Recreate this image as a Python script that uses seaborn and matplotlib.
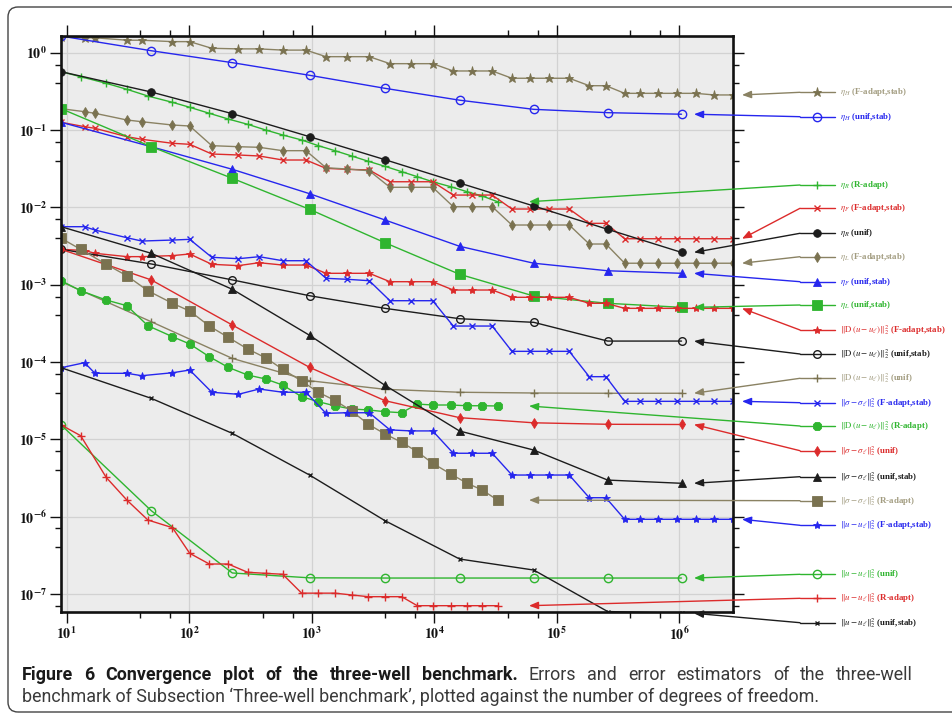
import numpy as np
import pandas as pd
import matplotlib
matplotlib.use("Agg")
import matplotlib.pyplot as plt
import seaborn as sns
from matplotlib.ticker import LogLocator, NullFormatter, FuncFormatter
from matplotlib.lines import Line2D
from matplotlib.patches import FancyBboxPatch
from matplotlib.transforms import IdentityTransform

# ---------------- data (degrees of freedom) ----------------
x_unif = [9, 49, 225, 961, 3969, 16129, 65025, 261121, 1046529]
x_fadapt = [9, 14, 17, 31, 41, 73, 101, 153, 252, 373, 580, 898, 1309, 1931, 2953,
            4355, 6467, 9727, 14325, 20240, 29800, 43150, 60500, 87000, 126800,
            184600, 252700, 359000, 478600, 675000, 955000, 1365000, 1935000, 2770000]
x_radapt = [9, 13, 21, 31, 46, 73, 101, 146, 208, 300, 421, 580, 828, 1132, 1549,
            2121, 2900, 3966, 5429, 7278, 9727, 13640, 18630, 24700, 32960]

# uniform refinement
etaH_unif_stab = [1.64, 1.06, 0.743, 0.510, 0.346, 0.243, 0.185, 0.1675, 0.160]
etaR_unif = [0.568, 0.310, 0.1625, 0.0819, 0.0413, 0.0206, 0.0104, 0.00519, 0.00261]
etaF_unif_stab = [0.1258, 0.0608, 0.0310, 0.0150, 0.00685, 0.00313, 0.00189, 0.00151, 0.00140]
etaL_unif_stab = [0.1886, 0.0608, 0.0237, 0.00942, 0.00348, 0.00136, 0.000712, 0.000573, 0.000508]
Du_unif_stab = [0.00286, 0.00185, 0.00115, 0.000718, 0.000493, 0.000362, 0.000325, 0.000186, 0.000186]
Du_unif = [0.00109, 0.000331, 0.000111, 5.71e-5, 4.42e-5, 4.05e-5, 3.96e-5, 3.93e-5, 3.93e-5]
sig_unif = [0.00286, 0.00115, 0.000300, 8.51e-5, 3.15e-5, 1.90e-5, 1.63e-5, 1.56e-5, 1.55e-5]
sig_unif_stab = [0.00561, 0.00254, 0.000869, 0.000221, 4.98e-5, 1.276e-5, 7.24e-6, 2.96e-6, 2.69e-6]
u_unif = [1.53e-5, 1.19e-6, 1.86e-7, 1.61e-7, 1.60e-7, 1.60e-7, 1.60e-7, 1.60e-7, 1.60e-7]
u_unif_stab = [8.41e-5, 3.38e-5, 1.19e-5, 3.44e-6, 8.83e-7, 2.82e-7, 2.03e-7, 5.9e-8, 5.6e-8]

# F-adapt, stab
etaH_fadapt = [1.60, 1.56, 1.56, 1.45, 1.45, 1.39, 1.39, 1.14, 1.12, 1.12, 1.08, 1.08,
               0.888, 0.888, 0.888, 0.721, 0.721, 0.721, 0.580, 0.580, 0.580,
               0.467, 0.467, 0.467, 0.467, 0.374, 0.374,
               0.298, 0.298, 0.298, 0.298, 0.298, 0.284, 0.284]
etaF_fadapt = [0.1258, 0.1103, 0.1052, 0.0819, 0.0758, 0.0673, 0.0653, 0.0489, 0.0475,
               0.0461, 0.0409, 0.0409, 0.0319, 0.0310, 0.0304, 0.0214, 0.0214, 0.0214,
               0.0144, 0.0144, 0.0144, 0.0095, 0.0095, 0.0095, 0.0095, 0.0062, 0.0062,
               0.00392, 0.00392, 0.00392, 0.00392, 0.00392, 0.00392, 0.00392]
etaL_fadapt = [0.1886, 0.1725, 0.1644, 0.1347, 0.128, 0.116, 0.1126, 0.0627, 0.0608,
               0.0597, 0.054, 0.054, 0.0325, 0.0313, 0.0297, 0.01815, 0.01815, 0.01815,
               0.01019, 0.01019, 0.01019, 0.0059, 0.0059, 0.0059, 0.0059, 0.00335, 0.00335,
               0.00189, 0.00189, 0.00189, 0.00189, 0.00189, 0.00189, 0.00189]
Du_fadapt = [0.00286, 0.00276, 0.00254, 0.0023, 0.0023, 0.00237, 0.00249, 0.00183, 0.00176,
             0.00192, 0.00179, 0.00179, 0.0014, 0.0014, 0.0014, 0.00109, 0.00109, 0.00109,
             0.000851, 0.000851, 0.000851, 0.000685, 0.000685, 0.000685, 0.000685,
             0.000573, 0.000573, 0.000493, 0.000493, 0.000493, 0.000493, 0.000493,
             0.000493, 0.000493]
sig_fadapt = [0.00561, 0.00561, 0.00508, 0.00404, 0.00366, 0.00377, 0.00385, 0.002255,
              0.002163, 0.002296, 0.002037, 0.002037, 0.001206, 0.001172, 0.001123,
              0.000619, 0.000619, 0.000619, 0.000291, 0.000291, 0.000291,
              0.000137, 0.000137, 0.000137, 0.000137, 6.44e-5, 6.44e-5,
              3.09e-5, 3.09e-5, 3.09e-5, 3.09e-5, 3.09e-5, 3.09e-5, 3.09e-5]
u_fadapt = [8.41e-5, 9.77e-5, 7.12e-5, 7.12e-5, 6.63e-5, 7.24e-5, 7.85e-5, 4.05e-5, 3.81e-5,
            4.46e-5, 4.05e-5, 4.05e-5, 2.16e-5, 2.2e-5, 2.2e-5, 1.32e-5, 1.28e-5, 1.28e-5,
            6.58e-6, 6.58e-6, 6.58e-6, 3.44e-6, 3.44e-6, 3.44e-6, 3.44e-6, 1.75e-6, 1.75e-6,
            9.2e-7, 9.2e-7, 9.2e-7, 9.2e-7, 9.2e-7, 9.2e-7, 9.2e-7]

# R-adapt
etaR_radapt = [0.568, 0.489, 0.402, 0.336, 0.275, 0.228, 0.1967, 0.1644, 0.1388, 0.1185,
               0.100, 0.0862, 0.0743, 0.0627, 0.054, 0.0461, 0.0394, 0.0339, 0.0289,
               0.0249, 0.0214, 0.01847, 0.0159, 0.0140, 0.0118]
Du_radapt = [0.001123, 0.000833, 0.000632, 0.000533, 0.000294, 0.000212, 0.0001705,
             0.0001168, 8.51e-5, 6.77e-5, 6.01e-5, 5.02e-5, 3.55e-5, 3.06e-5, 2.7e-5,
             2.46e-5, 2.39e-5, 2.27e-5, 2.2e-5, 2.85e-5, 2.77e-5, 2.77e-5, 2.71e-5,
             2.71e-5, 2.69e-5]
sig_radapt = [0.00397, 0.00286, 0.00183, 0.0013, 0.000833, 0.000573, 0.000455, 0.000291,
              0.000208, 0.000147, 0.000113, 8.02e-5, 5.66e-5, 4.05e-5, 3.17e-5, 2.32e-5,
              1.56e-5, 1.17e-5, 9.12e-6, 6.89e-6, 4.88e-6, 3.55e-6, 2.69e-6, 2.2e-6, 1.63e-6]
u_radapt = [1.53e-5, 1.11e-5, 3.21e-6, 1.63e-6, 9.01e-7, 7.17e-7, 3.34e-7, 2.43e-7, 2.43e-7,
            1.9e-7, 1.84e-7, 1.79e-7, 1.02e-7, 1.02e-7, 1.02e-7, 9.66e-8, 9.18e-8, 9.18e-8,
            9.18e-8, 7.02e-8, 7.02e-8, 7.02e-8, 7.02e-8, 7.02e-8, 7.02e-8]

D_ = r"$\|\mathrm{D}\,(u-u_\ell)\|_2^2$"
S_ = r"$\|\sigma-\sigma_\ell\|_2^2$"
U_ = r"$\|u-u_\ell\|_2^2$"
labels = [r"$\eta_H$ (F-adapt,stab)", r"$\eta_H$ (unif,stab)", r"$\eta_R$ (R-adapt)",
          r"$\eta_F$ (F-adapt,stab)", r"$\eta_R$ (unif)", r"$\eta_L$ (F-adapt,stab)",
          r"$\eta_F$ (unif,stab)", r"$\eta_L$ (unif,stab)",
          D_ + " (F-adapt,stab)", D_ + " (unif,stab)", D_ + " (unif)",
          S_ + " (F-adapt,stab)", D_ + " (R-adapt)", S_ + " (unif)", S_ + " (unif,stab)",
          S_ + " (R-adapt)", U_ + " (F-adapt,stab)", U_ + " (unif)", U_ + " (R-adapt)",
          U_ + " (unif,stab)"]

caption_bold = "Figure 6 Convergence plot of the three-well benchmark."
caption_rest1 = "Errors and error estimators of the three-well"
caption_line2 = ("benchmark of Subsection \u2018Three-well benchmark\u2019, plotted against "
                 "the number of degrees of freedom.")

# ---------------- styles / layout ----------------
BLUE, GREEN, RED, BLACK = "#2626ee", "#2fb52f", "#dc2b2b", "#1c1c1c"
OLIVE, OLIVE_M, OLIVE_T = "#8a8263", "#7a7250", "#a29c80"

# (x, y, line colour, text colour, marker, size, filled, legend y px, arrow tip x px, clip)
specs = [
    (x_fadapt, etaH_fadapt, OLIVE, OLIVE_T, "*", 6.5, True, 92.3, 742, True),
    (x_unif, etaH_unif_stab, BLUE, BLUE, "o", 6, False, 116.7, 694, True),
    (x_radapt, etaR_radapt, GREEN, GREEN, "+", 6, True, 185, 529, True),
    (x_fadapt, etaF_fadapt, RED, RED, "x", 4, True, 208.3, 742, True),
    (x_unif, etaR_unif, BLACK, BLACK, "o", 5.5, True, 233.3, 694, True),
    (x_fadapt, etaL_fadapt, OLIVE, OLIVE_T, "d", 5.5, True, 256.7, 742, True),
    (x_unif, etaF_unif_stab, BLUE, BLUE, "^", 5.5, True, 281.7, 694, True),
    (x_unif, etaL_unif_stab, GREEN, GREEN, "s", 6.5, True, 305, 694, True),
    (x_fadapt, Du_fadapt, RED, RED, "*", 6, True, 330, 742, True),
    (x_unif, Du_unif_stab, BLACK, BLACK, "o", 5.5, False, 354, 694, True),
    (x_unif, Du_unif, OLIVE, OLIVE_T, "+", 5.5, True, 378.3, 694, True),
    (x_fadapt, sig_fadapt, BLUE, BLUE, "x", 4, True, 402.7, 742, True),
    (x_radapt, Du_radapt, GREEN, GREEN, "8", 6, True, 426, 529, True),
    (x_unif, sig_unif, RED, RED, "d", 5.5, True, 450.7, 694, True),
    (x_unif, sig_unif_stab, BLACK, BLACK, "^", 5.5, True, 476.7, 694, True),
    (x_radapt, sig_radapt, OLIVE, OLIVE_T, "s", 7, True, 500.7, 529, True),
    (x_fadapt, u_fadapt, BLUE, BLUE, "*", 6, True, 525.3, 742, True),
    (x_unif, u_unif, GREEN, GREEN, "o", 6, False, 574.3, 694, True),
    (x_radapt, u_radapt, RED, RED, "+", 5.5, True, 598.3, 529, True),
    (x_unif, u_unif_stab, BLACK, BLACK, "x", 3.5, True, 622.7, 694, True),
]

sns.set_theme(style="white")
SERIF = ["Liberation Serif", "DejaVu Serif"]
plt.rcParams["font.family"] = SERIF
plt.rcParams["mathtext.fontset"] = "stix"

W, H = 952, 718
fig = plt.figure(figsize=(W / 100, H / 100), dpi=100)


def fx(px):
    return px / W


def fy(py):
    return 1 - py / H


L, R, T, B = 61.1, 733.3, 36.0, 611.7
ax = fig.add_axes([fx(L), fy(B), fx(R) - fx(L), fy(T) - fy(B)])
ax.set_facecolor("#ececec")
ax.set_xscale("log")
ax.set_yscale("log")

for (xs, ys, c, tc, m, ms, filled, ly, tipx, clip), lab in zip(specs, labels):
    mcol = OLIVE_M if c == OLIVE else c
    kw = dict(marker=m, markersize=ms, markeredgecolor=mcol,
              markerfacecolor=(mcol if filled else "none"),
              markeredgewidth=(1.0 if (m in ("+", "x") or not filled) else 0.6))
    sns.lineplot(x=xs, y=ys, ax=ax, color=c, lw=1.0, estimator=None, sort=False,
                 legend=False, clip_on=clip, **kw)
    # legend sample
    fig.add_artist(Line2D([fx(835), fx(817), fx(800)], [fy(ly)] * 3, color=c, lw=1.0,
                          markevery=[1], transform=fig.transFigure, **kw))
    ax.annotate("", xy=(fx(tipx), ys[-1]), xycoords=("figure fraction", "data"),
                xytext=(fx(800), fy(ly)), textcoords="figure fraction",
                arrowprops=dict(arrowstyle="-|>,head_length=0.55,head_width=0.22",
                                color=c, lw=1.0, shrinkA=0, shrinkB=0, mutation_scale=10),
                annotation_clip=False)
    fig.text(fx(840), fy(ly), lab, color=tc, fontsize=6.4, fontweight="bold",
             family="Liberation Serif", math_fontfamily="stix",
             va="center", ha="left")

ax.set_xlim(9.0, 2.77e6)
ax.set_ylim(5.87e-8, 1.644)

ax.xaxis.set_major_locator(LogLocator(base=10, numticks=20))
ax.yaxis.set_major_locator(LogLocator(base=10, numticks=20))
ax.xaxis.set_minor_locator(LogLocator(base=10, subs=[4.0, 7.0], numticks=40))
ax.yaxis.set_minor_locator(LogLocator(base=10, subs=[4.0, 7.0], numticks=40))
ax.xaxis.set_minor_formatter(NullFormatter())
ax.yaxis.set_minor_formatter(NullFormatter())
fmt = FuncFormatter(lambda v, p: r"$\mathbf{10^{%d}}$" % int(np.round(np.log10(v))))
ax.xaxis.set_major_formatter(fmt)
ax.yaxis.set_major_formatter(fmt)
ax.tick_params(which="both", direction="out", top=True, right=True, left=True, bottom=True,
               labeltop=False, labelright=False, color="#111111", width=1.0,
               labelsize=10, labelcolor="#111111")
ax.tick_params(which="major", length=8, pad=2)
ax.tick_params(which="minor", length=4.5)
ax.grid(True, which="major", color="#d2d2d2", lw=0.9)
ax.set_axisbelow(True)
for s in ax.spines.values():
    s.set_linewidth(1.9)
    s.set_color("#111111")

# outer rounded frame
fig.add_artist(FancyBboxPatch((8, H - 712), 990, 705,
                              boxstyle="round,pad=0,rounding_size=10",
                              transform=IdentityTransform(), fill=False,
                              ec="#444444", lw=1.0, clip_on=False))

# caption: size fitted so line 2 spans x=22..818; line 1 justified to x=913
cap_font = ["Roboto", "DejaVu Sans"]
fig.canvas.draw()
renderer = fig.canvas.get_renderer()
line2 = fig.text(fx(22), fy(702), caption_line2, family=cap_font, fontsize=12,
                 color="#3a3a3a", va="baseline", ha="left")
w2 = line2.get_window_extent(renderer).width
cap_fs = 12 * (818 - 22) / w2
line2.set_fontsize(cap_fs)

words = [(w, "bold", "#1a1a1a") for w in caption_bold.split()] + \
        [(w, "normal", "#3a3a3a") for w in caption_rest1.split()]
arts = []
for w, wt, col in words:
    t = fig.text(0, fy(680), w, family=cap_font, fontweight=wt, fontsize=cap_fs,
                 color=col, va="baseline", ha="left")
    arts.append(t)
widths = [a.get_window_extent(renderer).width for a in arts]
gap = (913 - 22 - sum(widths)) / (len(arts) - 1)
xpos = 22.0
for a, wdt in zip(arts, widths):
    a.set_x(fx(xpos))
    xpos += wdt + gap

fig.savefig("out.png", dpi=100)
